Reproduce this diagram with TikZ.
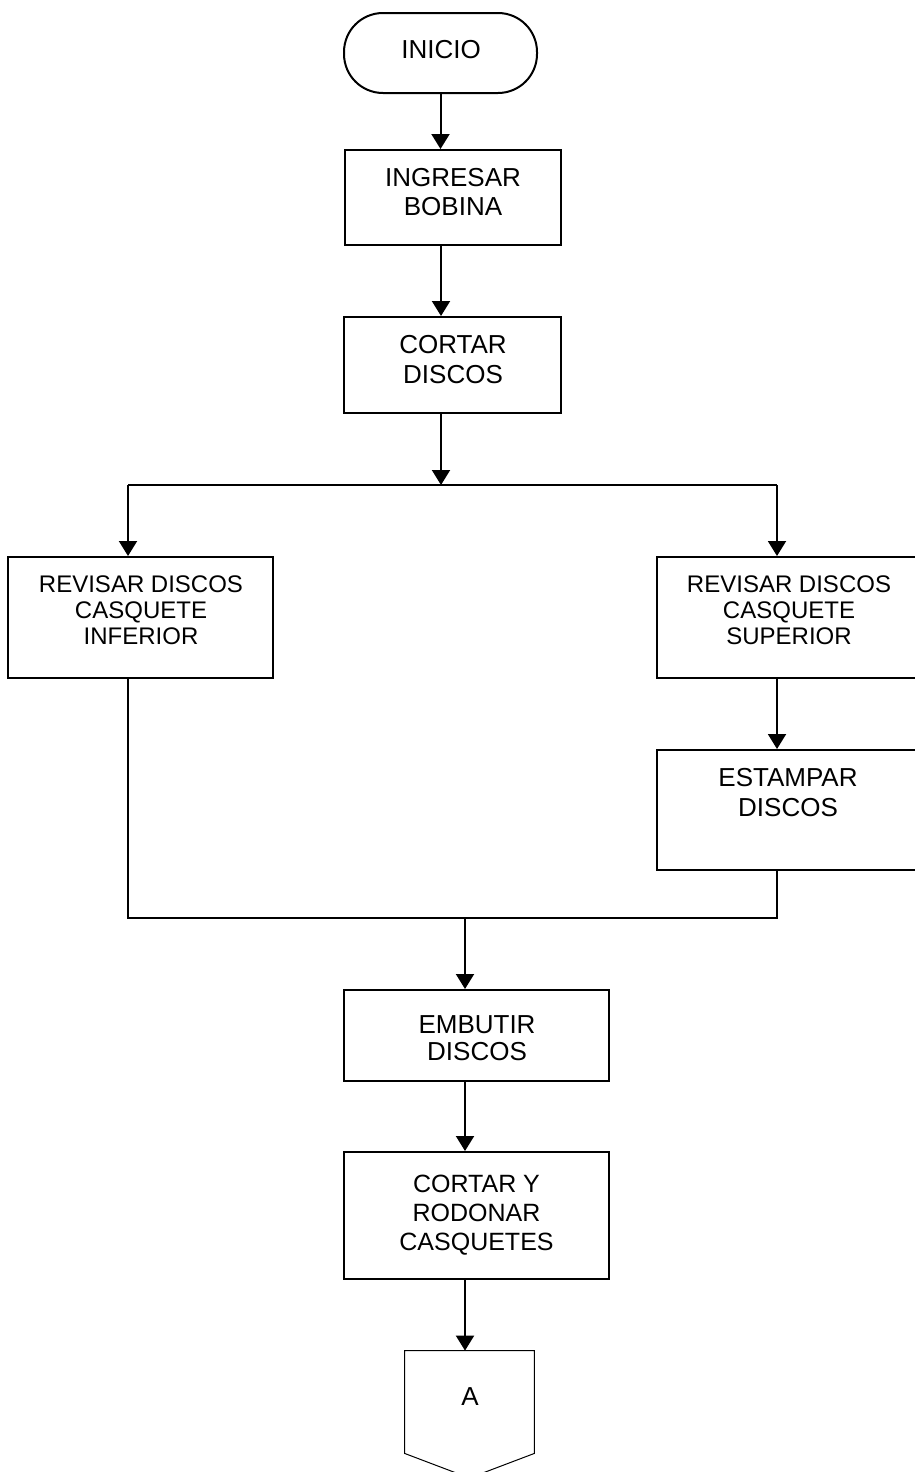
\documentclass[tikz,border=0pt]{standalone}
\usepackage{fontspec}
\setmainfont{Liberation Sans}
\usetikzlibrary{arrows.meta}
\begin{document}
\begin{tikzpicture}[x=0.5pt,y=-0.5pt,
  stepbox/.style={draw,line width=1pt,rectangle,inner sep=0pt},
  termbox/.style={draw,line width=1pt,rectangle,rounded corners=19.5pt,inner sep=0pt},
  txt/.style={anchor=north,align=center,inner sep=0pt,font=\fontsize{13}{14.5}\selectfont},
  smalltxt/.style={txt,font=\fontsize{12}{13}\selectfont},
  flow/.style={line width=1pt},
  arr/.style={flow,-{Triangle[width=9pt,length=7.5pt]}},
]
% page
\fill[white] (0,0) rectangle (915,1472);
\clip (0,0) rectangle (915,1472);

% process boxes
\node[termbox,minimum width=96.5pt,minimum height=40pt] (inicio) at (440.5,53) {};
\node[stepbox,minimum width=108pt,minimum height=47.5pt] (ingresar) at (453,197.5) {};
\node[stepbox,minimum width=108.5pt,minimum height=48pt] (cortar) at (452.5,365) {};
\node[stepbox,minimum width=132.5pt,minimum height=60.5pt] (revinf) at (140.5,617.5) {};
\node[stepbox,minimum width=132.5pt,minimum height=60.5pt] (revsup) at (789.5,617.5) {};
\node[stepbox,minimum width=132.5pt,minimum height=60pt] (estampar) at (789.5,810) {};
\node[stepbox,minimum width=132.5pt,minimum height=45.5pt] (embutir) at (476.5,1035.5) {};
\node[stepbox,minimum width=132.5pt,minimum height=63.5pt] (cortary) at (476.5,1215.5) {};
\node[inner sep=0pt,minimum width=64.5pt,minimum height=51pt] (conn) at (469.5,1402) {};
\coordinate (tip) at (469.5,1478);
\draw[line width=0.5pt] (conn.south west) -- (conn.north west) -- (conn.north east)
  -- (conn.south east) -- (tip) -- cycle;

% labels
\node[txt] (t-inicio) at (441,40) {INICIO};
\node[txt] (t-ingresar) at (453,168) {INGRESAR\\BOBINA};
\node[txt,font=\fontsize{13}{15}\selectfont] (t-cortar) at (453,335) {CORTAR\\DISCOS};
\node[smalltxt] (t-revinf) at (141,575) {REVISAR DISCOS\\CASQUETE\\INFERIOR};
\node[smalltxt] (t-revsup) at (789,575) {REVISAR DISCOS\\CASQUETE\\SUPERIOR};
\node[txt,font=\fontsize{13}{15}\selectfont] (t-estampar) at (788,768) {ESTAMPAR\\DISCOS};
\node[txt,font=\fontsize{13}{13.5}\selectfont] (t-embutir) at (477,1015) {EMBUTIR\\DISCOS};
\node[txt,font=\fontsize{12.5}{14.5}\selectfont] (t-cortary) at (476.5,1175) {CORTAR Y\\RODONAR\\CASQUETES};
\node[txt] (t-a) at (470,1387) {A};

% connector routing points
\coordinate (spine) at (441,0);
\coordinate (split) at (441,485);
\coordinate (lcol) at (128,485);
\coordinate (rcol) at (777,485);
\coordinate (join) at (465,918);

% connectors
\draw[arr] (inicio.south) -- (inicio.south |- ingresar.north);
\draw[arr] (spine |- ingresar.south) -- (spine |- cortar.north);
\draw[arr] (spine |- cortar.south) -- (split);
\draw[flow] (lcol) -- (rcol);
\draw[arr] (lcol) -- (lcol |- revinf.north);
\draw[arr] (rcol) -- (rcol |- revsup.north);
\draw[arr] (rcol |- revsup.south) -- (rcol |- estampar.north);
\draw[flow] (lcol |- revinf.south) -- (lcol |- join) -- (rcol |- join) -- (rcol |- estampar.south);
\draw[arr] (join) -- (join |- embutir.north);
\draw[arr] (join |- embutir.south) -- (join |- cortary.north);
\draw[arr] (join |- cortary.south) -- (join |- conn.north);
\end{tikzpicture}
\end{document}
